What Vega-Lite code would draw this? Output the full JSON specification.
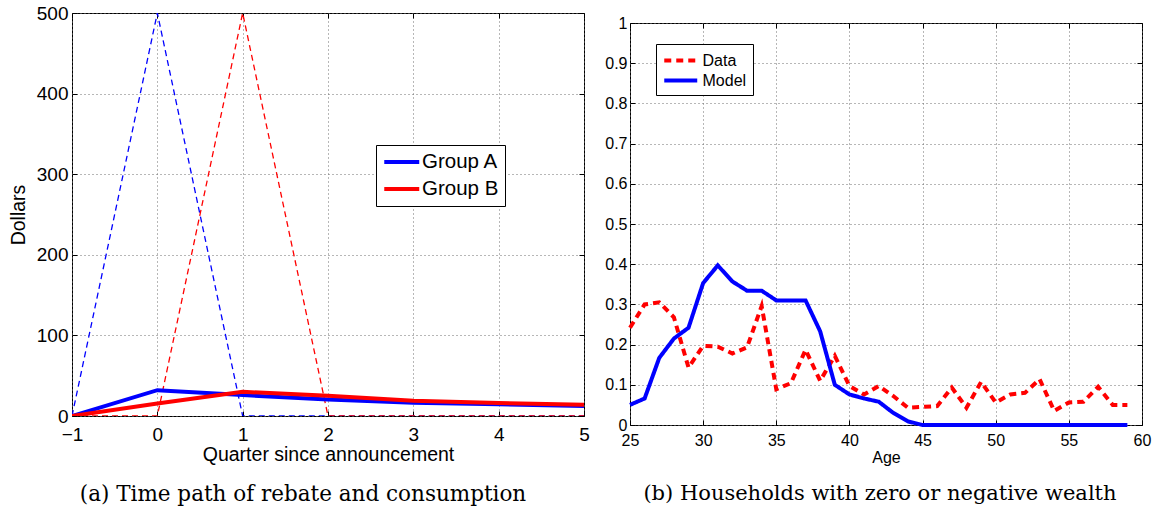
{
  "$schema": "https://vega.github.io/schema/vega-lite/v6.json",
  "background": "white",
  "padding": {"left": 7, "top": 3, "right": 5, "bottom": 0},
  "spacing": 14,
  "resolve": {
    "scale": {"color": "independent", "strokeDash": "independent"},
    "legend": {"color": "independent", "strokeDash": "independent"}
  },
  "config": {
    "font": "Liberation Sans",
    "view": {"stroke": "black", "strokeWidth": 1},
    "axis": {
      "domain": false,
      "tickColor": "black",
      "tickSize": -5,
      "tickWidth": 1,
      "labelColor": "black",
      "titleColor": "black",
      "titleFontWeight": "normal",
      "labelFont": "Liberation Sans",
      "titleFont": "Liberation Sans",
      "gridColor": "#6e6e6e",
      "gridDash": [1, 3],
      "gridWidth": 1,
      "labelFlush": false,
      "labelOverlap": false
    },
    "legend": {
      "title": null,
      "orient": "none",
      "symbolType": "M-1,0H3",
      "symbolStrokeWidth": 4,
      "strokeColor": "black",
      "fillColor": "white",
      "labelColor": "black",
      "labelFont": "Liberation Sans",
      "cornerRadius": 0
    }
  },
  "hconcat": [
    {
      "width": 512,
      "height": 403,
      "title": {
        "text": "(a) Time path of rebate and consumption",
        "orient": "bottom",
        "anchor": "middle",
        "dx": -25,
        "offset": 20,
        "font": "DejaVu Serif",
        "fontSize": 21.5,
        "fontWeight": "normal",
        "color": "black"
      },
      "data": {
        "values": [
          {"quarter": -1, "group": "Group A", "rebate": 0, "consumption": 0},
          {"quarter": 0, "group": "Group A", "rebate": 500, "consumption": 32},
          {"quarter": 1, "group": "Group A", "rebate": 0, "consumption": 26},
          {"quarter": 2, "group": "Group A", "rebate": 0, "consumption": 20.5},
          {"quarter": 3, "group": "Group A", "rebate": 0, "consumption": 16.5},
          {"quarter": 4, "group": "Group A", "rebate": 0, "consumption": 14.5},
          {"quarter": 5, "group": "Group A", "rebate": 0, "consumption": 12.5},
          {"quarter": -1, "group": "Group B", "rebate": 0, "consumption": 0},
          {"quarter": 0, "group": "Group B", "rebate": 0, "consumption": 15.5},
          {"quarter": 1, "group": "Group B", "rebate": 500, "consumption": 30},
          {"quarter": 2, "group": "Group B", "rebate": 0, "consumption": 25},
          {"quarter": 3, "group": "Group B", "rebate": 0, "consumption": 19},
          {"quarter": 4, "group": "Group B", "rebate": 0, "consumption": 16},
          {"quarter": 5, "group": "Group B", "rebate": 0, "consumption": 14}
        ]
      },
      "resolve": {"axis": {"x": "independent", "y": "independent"}},
      "layer": [
        {
          "mark": {"type": "line", "strokeWidth": 1.3, "strokeDash": [6, 4], "clip": true},
          "encoding": {
            "x": {
              "field": "quarter",
              "type": "quantitative",
              "scale": {"domain": [-1, 5], "nice": false, "zero": false},
              "axis": {
                "orient": "bottom",
                "values": [-1, 0, 1, 2, 3, 4, 5],
                "format": "d",
                "title": "Quarter since announcement",
                "labelFontSize": 19,
                "titleFontSize": 19.5,
                "labelPadding": 14,
                "titlePadding": 1,
                "grid": true
              }
            },
            "y": {
              "field": "rebate",
              "type": "quantitative",
              "scale": {"domain": [0, 500], "nice": false},
              "axis": {
                "orient": "left",
                "values": [0, 100, 200, 300, 400, 500],
                "title": "Dollars",
                "labelFontSize": 19,
                "titleFontSize": 19.5,
                "labelPadding": 9,
                "titlePadding": 8,
                "grid": true
              }
            },
            "color": {
              "field": "group",
              "type": "nominal",
              "scale": {"domain": ["Group A", "Group B"], "range": ["#0000ff", "#ff0000"]},
              "legend": {
                "legendX": 304,
                "legendY": 132,
                "symbolSize": 306,
                "labelFontSize": 20.5,
                "padding": 6,
                "rowPadding": 5,
                "labelOffset": 18
              }
            }
          }
        },
        {
          "mark": {"type": "line", "strokeWidth": 4, "clip": true},
          "encoding": {
            "x": {
              "field": "quarter",
              "type": "quantitative",
              "axis": {"orient": "top", "values": [-1, 0, 1, 2, 3, 4, 5], "labels": false, "title": null, "grid": false}
            },
            "y": {
              "field": "consumption",
              "type": "quantitative",
              "axis": {"orient": "right", "values": [0, 100, 200, 300, 400, 500], "labels": false, "title": null, "grid": false}
            },
            "color": {
              "field": "group",
              "type": "nominal",
              "legend": {
                "legendX": 304,
                "legendY": 132,
                "symbolSize": 306,
                "labelFontSize": 20.5,
                "padding": 6,
                "rowPadding": 5,
                "labelOffset": 18
              }
            }
          }
        }
      ]
    },
    {
      "spacing": 0,
      "vconcat": [
        {
          "width": 512,
          "height": 1,
          "view": {"stroke": null},
          "data": {"values": []},
          "mark": "point"
        },
        {
          "width": 512,
          "height": 402,
          "title": {
            "text": "(b) Households with zero or negative wealth",
            "orient": "bottom",
            "anchor": "middle",
            "dx": -6,
            "offset": 18,
            "font": "DejaVu Serif",
            "fontSize": 21,
            "fontWeight": "normal",
            "color": "black"
          },
          "data": {
            "values": [
              {"age": 25, "series": "Data", "share": 0.242},
              {"age": 26, "series": "Data", "share": 0.3},
              {"age": 27, "series": "Data", "share": 0.305},
              {"age": 28, "series": "Data", "share": 0.268},
              {"age": 29, "series": "Data", "share": 0.143},
              {"age": 30, "series": "Data", "share": 0.197},
              {"age": 31, "series": "Data", "share": 0.195},
              {"age": 32, "series": "Data", "share": 0.178},
              {"age": 33, "series": "Data", "share": 0.193},
              {"age": 34, "series": "Data", "share": 0.296},
              {"age": 35, "series": "Data", "share": 0.089},
              {"age": 36, "series": "Data", "share": 0.104},
              {"age": 37, "series": "Data", "share": 0.187},
              {"age": 38, "series": "Data", "share": 0.11},
              {"age": 39, "series": "Data", "share": 0.172},
              {"age": 40, "series": "Data", "share": 0.097},
              {"age": 41, "series": "Data", "share": 0.076},
              {"age": 42, "series": "Data", "share": 0.097},
              {"age": 43, "series": "Data", "share": 0.072},
              {"age": 44, "series": "Data", "share": 0.043},
              {"age": 45, "series": "Data", "share": 0.045},
              {"age": 46, "series": "Data", "share": 0.047},
              {"age": 47, "series": "Data", "share": 0.093},
              {"age": 48, "series": "Data", "share": 0.043},
              {"age": 49, "series": "Data", "share": 0.107},
              {"age": 50, "series": "Data", "share": 0.056},
              {"age": 51, "series": "Data", "share": 0.076},
              {"age": 52, "series": "Data", "share": 0.08},
              {"age": 53, "series": "Data", "share": 0.114},
              {"age": 54, "series": "Data", "share": 0.035},
              {"age": 55, "series": "Data", "share": 0.056},
              {"age": 56, "series": "Data", "share": 0.058},
              {"age": 57, "series": "Data", "share": 0.095},
              {"age": 58, "series": "Data", "share": 0.05},
              {"age": 59, "series": "Data", "share": 0.05},
              {"age": 25, "series": "Model", "share": 0.05},
              {"age": 26, "series": "Model", "share": 0.066},
              {"age": 27, "series": "Model", "share": 0.167},
              {"age": 28, "series": "Model", "share": 0.215},
              {"age": 29, "series": "Model", "share": 0.242},
              {"age": 30, "series": "Model", "share": 0.353},
              {"age": 31, "series": "Model", "share": 0.397},
              {"age": 32, "series": "Model", "share": 0.357},
              {"age": 33, "series": "Model", "share": 0.334},
              {"age": 34, "series": "Model", "share": 0.334},
              {"age": 35, "series": "Model", "share": 0.31},
              {"age": 36, "series": "Model", "share": 0.31},
              {"age": 37, "series": "Model", "share": 0.31},
              {"age": 38, "series": "Model", "share": 0.233},
              {"age": 39, "series": "Model", "share": 0.1},
              {"age": 40, "series": "Model", "share": 0.076},
              {"age": 41, "series": "Model", "share": 0.066},
              {"age": 42, "series": "Model", "share": 0.058},
              {"age": 43, "series": "Model", "share": 0.03},
              {"age": 44, "series": "Model", "share": 0.009},
              {"age": 45, "series": "Model", "share": 0},
              {"age": 46, "series": "Model", "share": 0},
              {"age": 47, "series": "Model", "share": 0},
              {"age": 48, "series": "Model", "share": 0},
              {"age": 49, "series": "Model", "share": 0},
              {"age": 50, "series": "Model", "share": 0},
              {"age": 51, "series": "Model", "share": 0},
              {"age": 52, "series": "Model", "share": 0},
              {"age": 53, "series": "Model", "share": 0},
              {"age": 54, "series": "Model", "share": 0},
              {"age": 55, "series": "Model", "share": 0},
              {"age": 56, "series": "Model", "share": 0},
              {"age": 57, "series": "Model", "share": 0},
              {"age": 58, "series": "Model", "share": 0},
              {"age": 59, "series": "Model", "share": 0}
            ]
          },
          "resolve": {"axis": {"x": "independent", "y": "independent"}},
          "layer": [
            {
              "transform": [{"filter": "datum.series === 'Data'"}],
              "mark": {"type": "line", "strokeWidth": 4, "strokeCap": "butt"},
              "encoding": {
                "x": {
                  "field": "age",
                  "type": "quantitative",
                  "scale": {"domain": [25, 60], "nice": false, "zero": false},
                  "axis": {
                    "orient": "bottom",
                    "values": [25, 30, 35, 40, 45, 50, 55, 60],
                    "title": "Age",
                    "labelFontSize": 16,
                    "titleFontSize": 16,
                    "labelPadding": 12,
                    "titlePadding": 1,
                    "grid": true
                  }
                },
                "y": {
                  "field": "share",
                  "type": "quantitative",
                  "scale": {"domain": [0, 1], "nice": false},
                  "axis": {
                    "orient": "left",
                    "values": [0, 0.1, 0.2, 0.3, 0.4, 0.5, 0.6, 0.7, 0.8, 0.9, 1],
                    "format": "~g",
                    "title": null,
                    "labelFontSize": 16,
                    "labelPadding": 8,
                    "grid": true
                  }
                },
                "color": {
                  "field": "series",
                  "type": "nominal",
                  "scale": {"domain": ["Data", "Model"], "range": ["#ff0000", "#0000ff"]},
                  "legend": {
                    "legendX": 26,
                    "legendY": 31,
                    "symbolSize": 272,
                    "labelFontSize": 16,
                    "padding": 6,
                    "rowPadding": 1,
                    "labelOffset": 19.5
                  }
                },
                "strokeDash": {
                  "field": "series",
                  "type": "nominal",
                  "scale": {"domain": ["Data", "Model"], "range": [[7, 5], [1, 0]]},
                  "legend": {
                    "legendX": 26,
                    "legendY": 31,
                    "symbolSize": 272,
                    "labelFontSize": 16,
                    "padding": 6,
                    "rowPadding": 1,
                    "labelOffset": 19.5
                  }
                }
              }
            },
            {
              "transform": [{"filter": "datum.series === 'Model'"}],
              "mark": {"type": "line", "strokeWidth": 4, "strokeCap": "butt"},
              "encoding": {
                "x": {
                  "field": "age",
                  "type": "quantitative",
                  "axis": {"orient": "top", "values": [25, 30, 35, 40, 45, 50, 55, 60], "labels": false, "title": null, "grid": false}
                },
                "y": {
                  "field": "share",
                  "type": "quantitative",
                  "axis": {"orient": "right", "values": [0, 0.1, 0.2, 0.3, 0.4, 0.5, 0.6, 0.7, 0.8, 0.9, 1], "labels": false, "title": null, "grid": false}
                },
                "color": {
                  "field": "series",
                  "type": "nominal",
                  "legend": {
                    "legendX": 26,
                    "legendY": 31,
                    "symbolSize": 272,
                    "labelFontSize": 16,
                    "padding": 6,
                    "rowPadding": 1,
                    "labelOffset": 19.5
                  }
                },
                "strokeDash": {
                  "field": "series",
                  "type": "nominal",
                  "legend": {
                    "legendX": 26,
                    "legendY": 31,
                    "symbolSize": 272,
                    "labelFontSize": 16,
                    "padding": 6,
                    "rowPadding": 1,
                    "labelOffset": 19.5
                  }
                }
              }
            }
          ]
        }
      ]
    }
  ]
}
